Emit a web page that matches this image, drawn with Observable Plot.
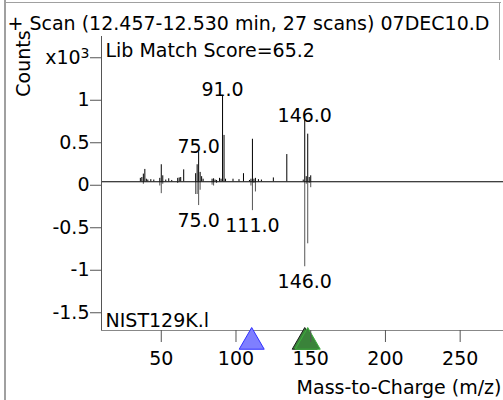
<!DOCTYPE html>
<html><head><meta charset="utf-8">
<script src="https://cdn.jsdelivr.net/npm/d3@7"></script>
<script src="https://cdn.jsdelivr.net/npm/@observablehq/plot@0.6"></script>
<style>
body{margin:0;background:#fff;}
#wrap{position:relative;width:503px;height:400px;overflow:hidden;background:#fff;}
#chart{position:absolute;left:0;top:0;}
.bl{position:absolute;background:#a0a0a0;}
</style></head><body>
<div id="wrap"><div id="chart"></div>
<div class="bl" style="left:4px;top:0;width:2px;height:400px"></div>
<div class="bl" style="left:4px;top:2px;width:497px;height:1px"></div>
<div class="bl" style="left:499px;top:2px;width:1px;height:58px"></div>
</div>
<script>
const title = "+ Scan (12.457-12.530 min, 27 scans) 07DEC10.D";
const matchLabel = "Lib Match Score=65.2";
const libraryName = "NIST129K.l";
const yLabel = "Counts";
const xLabel = "Mass-to-Charge (m/z)";

// sample (upper) spectrum
const sampleMz     = [36, 37, 38, 39, 40, 41, 43, 45, 49, 50, 51, 53, 55, 57, 61, 62, 63, 65, 73, 74, 75, 76, 77, 78, 84, 85, 86, 87, 89, 90, 91, 92, 93, 98, 102, 105, 109, 110, 111, 112, 113, 115, 117, 125, 134, 145, 146, 147, 148, 149, 150];
const sampleCounts = [40, 50, 90, 145, 30, 20, 25, 20, 40, 200, 70, 20, 35, 15, 40, 45, 50, 140, 95, 200, 350, 110, 60, 30, 30, 35, 20, 15, 40, 30, 1015, 545, 30, 30, 25, 95, 15, 30, 500, 30, 40, 25, 20, 45, 320, 20, 720, 60, 560, 50, 70];

// library (lower, mirrored) spectrum
const libraryMz     = [38, 49, 50, 51, 61, 73, 74, 75, 76, 84, 85, 87, 110, 111, 112, 113, 146, 147, 148, 149, 150];
const libraryCounts = [-30, -50, -140, -30, -20, -150, -150, -280, -100, -40, -50, -20, -50, -340, -20, -120, -1000, -30, -730, -20, -70];

const upperLabelMz = [75, 91, 146];
const lowerLabelMz = [75, 111, 146];

const markerMz = [110.5, 146, 148];
const markerFill = ["#7f7fff", "#3a833a", "#3a833a"];
const markerStroke = ["#3030ff", "#1a1a1a", "#3cb03c"];

const xTicks = [50, 100, 150, 200, 250];
const yTicks = [-1500, -1000, -500, 0, 500, 1000, 1500];

const sample = sampleMz.map((mz, i) => ({mz, counts: sampleCounts[i]}));
const library = libraryMz.map((mz, i) => ({mz, counts: libraryCounts[i]}));
const upperLabels = upperLabelMz.map(mz => sample.find(d => d.mz === mz));
const lowerLabels = lowerLabelMz.map(mz => library.find(d => d.mz === mz));
const markers = markerMz.map((mz, i) => ({mz, fill: markerFill[i], stroke: markerStroke[i]}));

const xDomain = [10, 279];
const yDomain = [-1750, 1709];

const chart = Plot.plot({
  width: 503,
  height: 400,
  marginLeft: 101,
  marginRight: 0,
  marginTop: 36,
  marginBottom: 70,
  style: {fontFamily: "DejaVu Sans", fontSize: "19px", color: "#000", background: "transparent"},
  x: {domain: xDomain},
  y: {domain: yDomain},
  marks: [
    Plot.ruleX(library, {x: "mz", y1: 0, y2: "counts", stroke: "#555"}),
    Plot.ruleX(sample, {x: "mz", y1: 0, y2: "counts", stroke: "#000"}),
    Plot.ruleY([0], {stroke: "#000"}),
    Plot.ruleX([xDomain[0]], {stroke: "#555"}),
    Plot.ruleY([yDomain[0]], {stroke: "#888"}),
    Plot.dot(markers, {x: "mz", frameAnchor: "bottom", dy: 11.5, symbol: "triangle", r: 9.3, fill: d => d.fill, stroke: d => d.stroke, strokeWidth: 1}),
    Plot.axisX({ticks: xTicks, tickSize: 12, tickPadding: 9, fontSize: 19, stroke: "#555", label: null, tickFormat: d => String(d)}),
    Plot.axisY({ticks: yTicks, tickSize: 11, tickPadding: 1, fontSize: 19, stroke: "#555", label: null, dy: 3.5,
      tickFormat: d => d === 1500 ? "x10" : String(d / 1000)}),
    Plot.text(upperLabels, {x: "mz", y: "counts", text: d => d.mz.toFixed(1), lineAnchor: "bottom", dy: 1, fontSize: 19, fill: "#000"}),
    Plot.text(lowerLabels, {x: "mz", y: "counts", text: d => d.mz.toFixed(1), lineAnchor: "top", dy: 8, fontSize: 19, fill: "#000"}),
    Plot.text([title], {text: d => d, frameAnchor: "top-left", dx: -94, dy: -7, lineAnchor: "bottom", textAnchor: "start", fontSize: 19, fill: "#000"}),
    Plot.text([matchLabel], {text: d => d, frameAnchor: "top-left", dx: 4, dy: 20.5, lineAnchor: "bottom", textAnchor: "start", fontSize: 19, fill: "#000"}),
    Plot.text([libraryName], {text: d => d, frameAnchor: "bottom-left", dx: 4, dy: -3.5, lineAnchor: "bottom", textAnchor: "start", fontSize: 19, fill: "#000"}),
    Plot.text([yLabel], {text: d => d, frameAnchor: "top-left", dx: -72, dy: 27, rotate: -90, lineAnchor: "bottom", textAnchor: "middle", fontSize: 19, fill: "#000"}),
    Plot.text([xLabel], {text: d => d, frameAnchor: "bottom-right", dx: -2, dy: 63, lineAnchor: "bottom", textAnchor: "end", fontSize: 19, fill: "#000"})
  ]
});

d3.select(chart).selectAll("text").filter(function() { return this.textContent === "x10"; })
  .each(function() {
    d3.select(this).append("tspan").attr("dy", "-0.45em").attr("font-size", "14px").text("3");
  });

document.getElementById("chart").appendChild(chart);
</script>
</body></html>
